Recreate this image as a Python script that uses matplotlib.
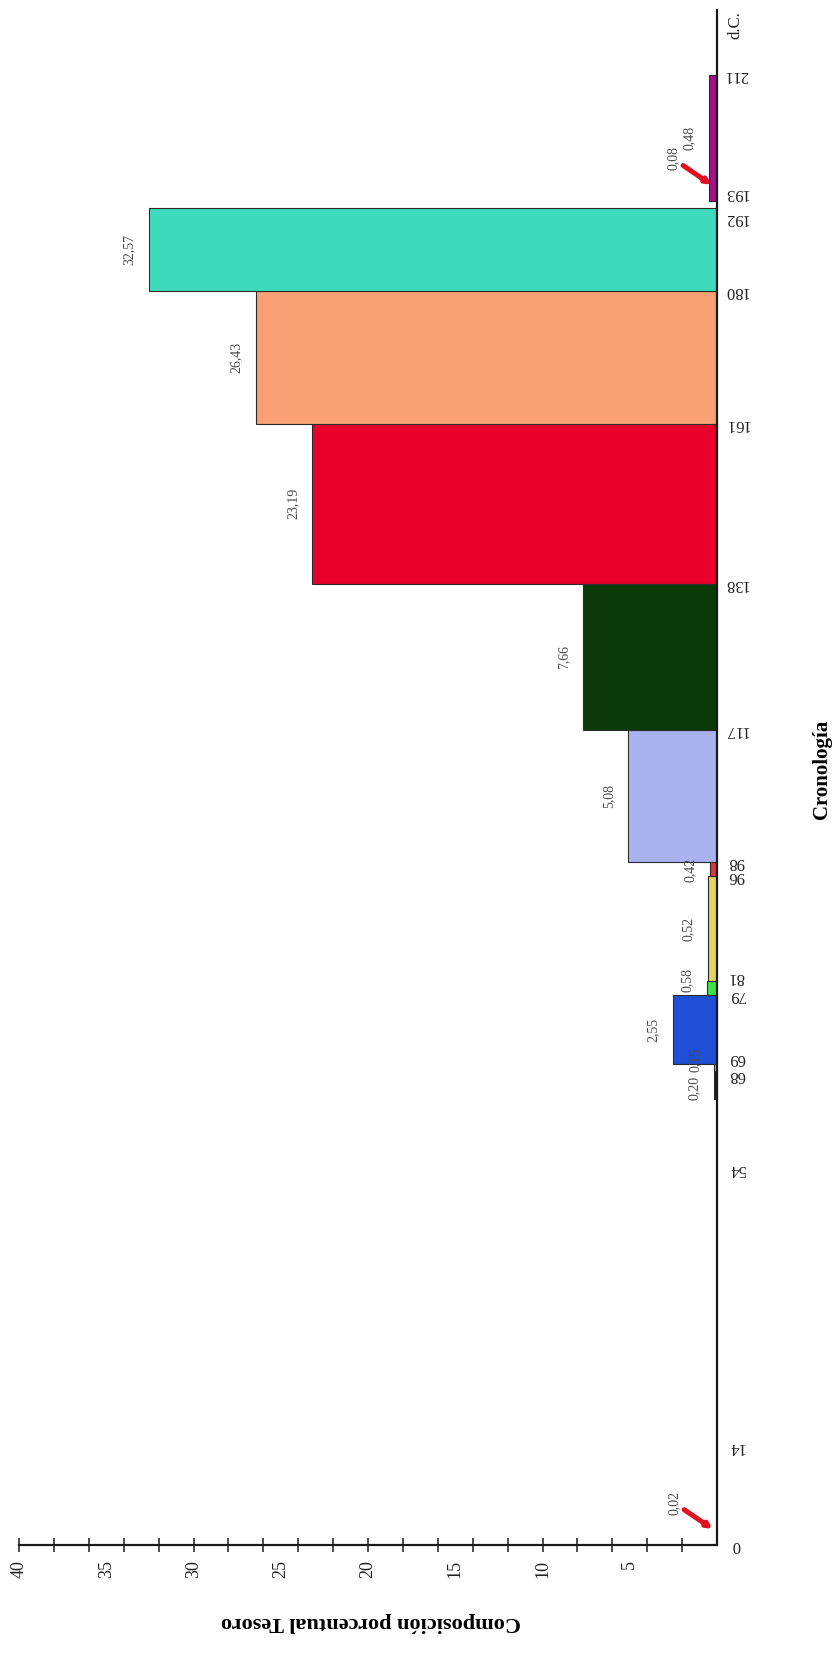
import matplotlib.pyplot as plt
from matplotlib.ticker import FixedLocator
from matplotlib.transforms import ScaledTranslation, blended_transform_factory

plt.rcParams['font.family'] = ['Liberation Serif', 'DejaVu Serif']

# tramos cronologicos (inicio, fin) y composicion porcentual
inicio = [64, 68, 69, 79, 81, 96, 98, 117, 138, 161, 180, 193]
fin = [68, 69, 79, 81, 96, 98, 117, 138, 161, 180, 192, 211]
valores = [0.20, 0.15, 2.55, 0.58, 0.52, 0.42, 5.08, 7.66, 23.19, 26.43, 32.57, 0.48]
colores = ['#1c1c1c', '#d9cc55', '#1f4fd4', '#3ee04c', '#e3d45c', '#e2303c',
           '#aab3ef', '#0b3a08', '#e8002a', '#f9a075', '#3ddbbb', '#a2108c']

# valores puntuales marcados con flecha
flecha_anio = [0, 193]
flecha_valor = [0.02, 0.08]

anios = [0, 14, 54, 68, 69, 79, 81, 96, 98, 117, 138, 161, 180, 192, 193, 211]
porcentajes = [0, 5, 10, 15, 20, 25, 30, 35, 40]


def coma(v):
    return f'{v:.2f}'.replace('.', ',')


fig = plt.figure(figsize=(8.38, 16.53), dpi=100)
ax = fig.add_axes([19 / 838, 108 / 1653, 698 / 838, 1535 / 1653])

alturas = [f - i for i, f in zip(inicio, fin)]
ax.barh(inicio, valores, height=alturas, align='edge', color=colores,
        edgecolor='#2b2b2b', linewidth=0.8, zorder=2)

ax.set_xlim(40, 0)
ax.set_ylim(0, 220.4)

# ejes: solo derecha y abajo
for lado in ['left', 'top']:
    ax.spines[lado].set_visible(False)
for lado in ['right', 'bottom']:
    ax.spines[lado].set_linewidth(1.6)
    ax.spines[lado].set_color('#1a1a1a')

# eje de porcentaje
ax.xaxis.set_major_locator(FixedLocator(porcentajes))
ax.xaxis.set_minor_locator(FixedLocator(list(range(2, 41, 2))))
ax.xaxis.remove_overlapping_locs = False
ax.set_xticklabels([str(p) if p > 0 else '' for p in porcentajes])
ax.tick_params(axis='x', which='major', length=0, pad=11, labelsize=13,
               labelrotation=90, labelcolor='#222222')
ax.tick_params(axis='x', which='minor', direction='inout', length=10,
               width=1.1, color='#1a1a1a')

# eje cronologico
ax.yaxis.tick_right()
ax.set_yticks(anios, [str(a) for a in anios])
ax.tick_params(axis='y', length=0, pad=14, labelsize=12, labelrotation=180,
               labelcolor='#222222')
desplaz = {68: -4, 69: 6, 81: 4, 192: -10, 193: 8}
for a, lab in zip(anios, ax.get_yticklabels()):
    lab.set_ha('center')
    lab.set_va('center')
    if a in desplaz:
        lab.set_transform(lab.get_transform() +
                          ScaledTranslation(0, desplaz[a] / 100, fig.dpi_scale_trans))

trans = blended_transform_factory(ax.transAxes, ax.transData)
ax.text(1 + 18 / 698, 218.3, 'd.C.', transform=trans, rotation=90,
        ha='center', va='center', fontsize=12, color='#222222')

# etiquetas de valores
ajuste = {0: -2, 1: 5.5, 3: 5.5}
for k, (v, i, f) in enumerate(zip(valores, inicio, fin)):
    ax.annotate(coma(v), xy=(v, (i + f) / 2), xytext=(-14, ajuste.get(k, 0)),
                textcoords='offset points', rotation=90, ha='center',
                va='center', fontsize=10, color='#4a4a4a', zorder=3)

# flechas para los valores minimos
for a, v in zip(flecha_anio, flecha_valor):
    punta = ax.transData + ScaledTranslation(-4 / 100, 16 / 100, fig.dpi_scale_trans)
    ax.annotate(coma(v), xy=(v, a), xycoords=punta, xytext=(-28, 19),
                textcoords='offset points', rotation=90, ha='center',
                va='center', fontsize=10, color='#4a4a4a',
                arrowprops=dict(arrowstyle='-|>', color='#e01020', lw=3.6,
                                mutation_scale=7, shrinkA=1, shrinkB=0))

ax.set_xlabel('Composición porcentual Tesoro', fontsize=16, fontweight='bold',
              rotation=180, va='center', ha='center')
ax.xaxis.set_label_coords(0.505, -0.050)
ax.yaxis.set_label_position('right')
ax.set_ylabel('Cronología', fontsize=15, fontweight='bold', rotation=90,
              va='center', ha='center')
ax.yaxis.set_label_coords(1.150, 0.505)

fig.savefig('out.png', dpi=100)
